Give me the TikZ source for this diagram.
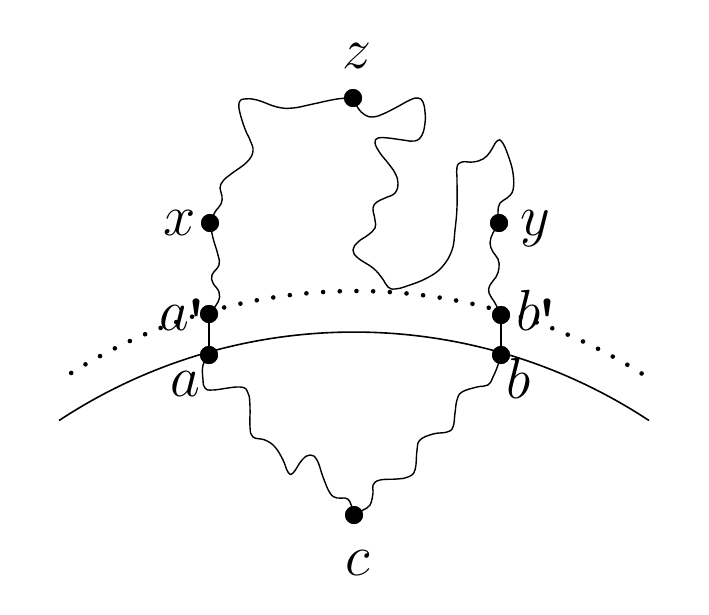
\RequirePackage{fix-cm}
\documentclass[tikz,border=0pt]{standalone}
\newcommand{\myprime}{{\fontsize{64}{64}\selectfont\bfseries\raisebox{-13pt}{\textquotesingle}}}
\begin{document}
\begin{tikzpicture}[x=1pt,y=-1pt,
  dot/.style={circle,fill=black,inner sep=0pt,minimum size=18pt},
  lab/.style={anchor=base,inner sep=0pt,font=\fontsize{58}{60}\selectfont},
  wig/.style={line width=1.4pt,smooth,tension=0.7},
  rim/.style={line width=1.6pt}]
\useasboundingbox (0,0) rectangle (709,614);
% nodes
\node[dot] (z) at (353,98) {};
\node[dot] (x) at (210,223) {};
\node[dot] (y) at (499,223) {};
\node[dot] (ap) at (209,314) {};
\node[dot] (bp) at (501,315) {};
\node[dot] (a) at (209,355) {};
\node[dot] (b) at (501,355) {};
\node[dot] (c) at (354,515) {};
% wiggly curves
\draw[wig] plot coordinates {(ap.center) (218,302) (219,292) (213,283) (212,275) (219,265) (218,255) (213,238) (x.center)};
\draw[wig] plot coordinates {(x.center) (215,212) (221,204) (222,196) (220,188) (223,181) (231,174) (247,162) (253,151) (250,140) (245,129) (240,113) (239,103) (244,99) (257,100) (277,107) (293,108) (313,104) (337,99) (z.center)};
\draw[wig] plot coordinates {(z.center) (358,108) (365,115) (373,117) (383,114) (397,107) (410,100) (418,98) (423,102) (425,112) (425,123) (422,135) (415,141) (403,140) (388,138) (378,138) (375,143) (380,153) (388,163) (395,173) (398,183) (395,193) (385,198) (377,202) (373,208) (375,220) (375,228) (368,235) (358,242) (353,250) (358,258) (373,268) (382,278) (388,287) (395,289) (407,286) (427,278) (442,267) (452,250) (455,230) (457,207) (457,180) (457,167) (462,162) (473,162) (483,159) (490,152) (497,141) (502,142) (508,155) (513,173) (513,190) (507,198) (500,203) (498,212) (y.center)};
\draw[wig] plot coordinates {(y.center) (493,233) (490,243) (493,252) (498,259) (499,268) (496,277) (490,285) (489,293) (495,303) (bp.center)};
\draw[wig] plot coordinates {(a.center) (203,365) (203,380) (205,388) (213,390) (240,387) (248,393) (250,407) (250,427) (253,437) (265,440) (275,447) (283,460) (288,472) (293,473) (302,460) (310,455) (317,460) (323,477) (330,493) (337,498) (345,498) (350,502) (c.center)};
\draw[wig] plot coordinates {(c.center) (363,510) (370,505) (373,493) (373,485) (380,480) (397,479) (408,477) (415,470) (417,450) (420,440) (433,434) (447,432) (453,427) (455,413) (457,400) (462,392) (477,387) (488,385) (493,377) (498,365) (b.center)};
% vertical connectors
\draw[line width=1.4pt] (ap) -- (a);
\draw[line width=1.4pt] (bp) -- (b);
% solid arc
\draw[rim] (354,868) ++(-123.4:536) arc[start angle=-123.4, end angle=-56.6, radius=536];
% labels
\node[lab] (lz) at (357,68) {$z$};
\node[lab] (lc) at (358,575) {$c$};
\node[lab] (lx) at (180,235) {$x$};
\node[lab] (ly) at (535,235) {$y$};
\node[lab] (la) at (185,396) {$a$};
\node[lab] (lb) at (519,398) {$b$};
\node[lab] (lap) at (183,330) {$a$\kern-3pt\myprime};
\node[lab] (lbp) at (537,330) {$b$\kern-3pt\myprime};
% dotted arc
\foreach \i in {0,...,36}
  \fill ({356+536*cos(-122.1+\i*1.7861)},{827+536*sin(-122.1+\i*1.7861)}) circle[radius=2.3];
% redraw dots on top
\foreach \n in {z,x,y,ap,bp,a,b,c}
  \fill (\n.center) circle[radius=9];
\end{tikzpicture}
\end{document}
